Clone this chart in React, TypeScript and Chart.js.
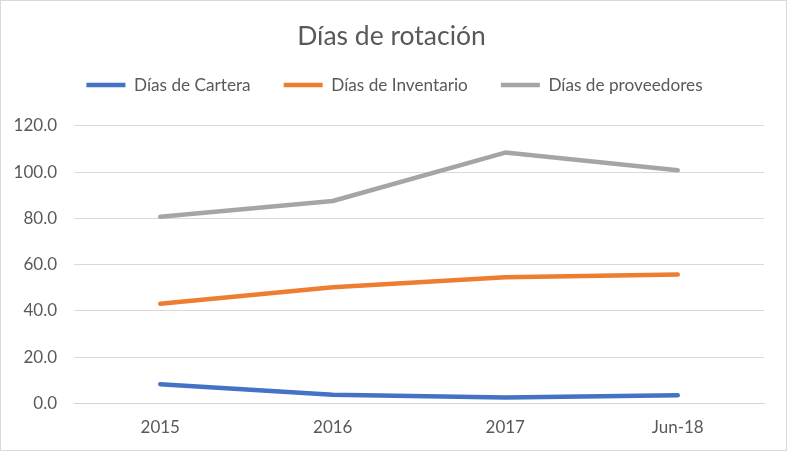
import React, { useEffect, useRef } from "react";
import { Chart, registerables } from "chart.js";

Chart.register(...registerables);

const categories = ["2015", "2016", "2017", "Jun-18"];
const diasCartera = [8.4, 3.8, 2.6, 3.6];
const diasInventario = [43.1, 50.2, 54.6, 55.7];
const diasProveedores = [80.7, 87.5, 108.4, 100.8];
const seriesNames = ["Días de Cartera", "Días de Inventario", "Días de proveedores"];
const seriesColors = ["#4472C4", "#ED7D31", "#A5A5A5"];
const titleText = "Días de rotación";

const FONT = "Lato, 'Open Sans', sans-serif";
const TEXT = "#595959";

const legendSpacer = {
  id: "legendSpacer",
  beforeLayout(chart: any) {
    const lg = chart.legend;
    if (lg && !lg.__patched) {
      const orig = lg.fit.bind(lg);
      lg.fit = () => {
        orig();
        lg.height += 22;
      };
      lg.__patched = true;
    }
  },
  afterLayout(chart: any) {
    const lg = chart.legend;
    if (lg) {
      lg.left += 7.5;
      lg.right += 7.5;
    }
    const tb = chart.titleBlock;
    if (tb) {
      tb.left += 4.5;
      tb.right += 4.5;
    }
  },
};

export default function App() {
  const ref = useRef<HTMLCanvasElement>(null);
  useEffect(() => {
    document.body.style.margin = "0";
    const ctx = ref.current!;
    const values = [diasCartera, diasInventario, diasProveedores];
    const chart = new Chart(ctx, {
      type: "line",
      data: {
        labels: categories,
        datasets: values.map((v, i) => ({
          label: seriesNames[i],
          data: v,
          borderColor: seriesColors[i],
          backgroundColor: seriesColors[i],
          borderWidth: 4.5,
          borderCapStyle: "round" as const,
          borderJoinStyle: "round" as const,
          pointRadius: 0,
          pointHoverRadius: 0,
          tension: 0,
          fill: false,
        })),
      },
      plugins: [legendSpacer],
      options: {
        animation: false,
        responsive: false,
        maintainAspectRatio: false,
        layout: { padding: { left: 10, right: 24, top: 0, bottom: 0 } },
        plugins: {
          title: {
            display: true,
            text: titleText,
            color: TEXT,
            font: { family: FONT, size: 26.5, weight: "normal", lineHeight: 1 },
            padding: { top: 23.5, bottom: -6.5 },
          },
          legend: {
            display: true,
            position: "top",
            labels: {
              usePointStyle: true,
              pointStyle: "line",
              pointStyleWidth: 39,
              boxHeight: 5,
              color: TEXT,
              font: { family: FONT, size: 17.2 },
              padding: 33,
            },
          },
          tooltip: { enabled: false },
        },
        scales: {
          x: {
            offset: true,
            grid: { display: false, drawTicks: false },
            border: { display: true, color: "#d4d4d4", width: 1 },
            ticks: { color: TEXT, font: { family: FONT, size: 17 }, padding: 14 },
          },
          y: {
            min: 0,
            max: 120,
            grid: { color: "#d9d9d9", drawTicks: false },
            border: { display: false },
            ticks: {
              stepSize: 20,
              color: TEXT,
              font: { family: FONT, size: 17 },
              padding: 17,
              callback: (v: any) => Number(v).toFixed(1),
            },
            afterFit: (s: any) => {
              s.width = 64;
            },
          },
        },
      },
    });
    return () => chart.destroy();
  }, []);
  return (
    <div style={{ position: "relative", width: 788, height: 452, background: "#fff" }}>
      <canvas ref={ref} width={788} height={452} style={{ display: "block", width: 788, height: 452 }} />
      <div
        style={{
          position: "absolute",
          left: 0,
          top: 0,
          width: 785,
          height: 449,
          border: "1px solid #d9d9d9",
          pointerEvents: "none",
        }}
      />
    </div>
  );
}
